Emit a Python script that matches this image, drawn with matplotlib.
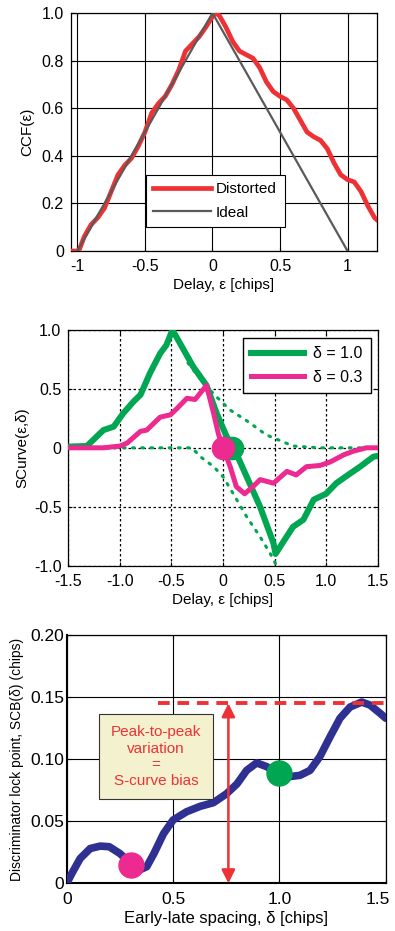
import matplotlib
matplotlib.use("Agg")
import matplotlib.pyplot as plt
import matplotlib.transforms as mtransforms
import numpy as np

plt.rcParams['font.family'] = ['Liberation Sans', 'DejaVu Sans']
plt.rcParams['font.size'] = 11

# --- Panel 1: cross-correlation function ---
ccf_delay = [-1.05, -0.99, -0.95, -0.9, -0.85, -0.8, -0.75, -0.7, -0.65, -0.6, -0.55,
             -0.5, -0.45, -0.4, -0.35, -0.3, -0.25, -0.2, -0.15, -0.1, -0.05, 0.0,
             0.02, 0.05, 0.1, 0.15, 0.2, 0.25, 0.3, 0.35, 0.4, 0.45, 0.5, 0.55, 0.6,
             0.65, 0.7, 0.75, 0.8, 0.85, 0.9, 0.95, 1.0, 1.05, 1.1, 1.15, 1.2, 1.22]
ccf_distorted = [0.0, 0.0, 0.06, 0.11, 0.14, 0.18, 0.25, 0.32, 0.36, 0.39, 0.44,
                 0.5, 0.58, 0.62, 0.65, 0.70, 0.76, 0.84, 0.87, 0.90, 0.94, 0.985,
                 1.0, 0.99, 0.94, 0.88, 0.84, 0.825, 0.81, 0.77, 0.71, 0.67, 0.65, 0.635, 0.60,
                 0.55, 0.50, 0.48, 0.465, 0.43, 0.37, 0.32, 0.30, 0.29, 0.25, 0.19, 0.14, 0.13]
ideal_delay = [-1.0, 0.0, 1.0]
ideal_ccf = [0.0, 1.0, 0.0]

# --- Panel 2: S-curves ---
s10_delay = [-1.5, -1.32, -1.16, -1.06, -0.97, -0.87, -0.8, -0.71, -0.61, -0.55, -0.49,
             -0.29, -0.16, -0.06, 0.036, 0.13, 0.23, 0.36, 0.49, 0.51, 0.62, 0.68,
             0.78, 0.88, 1.0, 1.1, 1.23, 1.33, 1.46, 1.5]
s10_val = [0.01, 0.015, 0.15, 0.18, 0.29, 0.39, 0.45, 0.63, 0.80, 0.87, 1.0,
           0.69, 0.53, 0.29, 0.095, -0.05, -0.245, -0.5, -0.81, -0.9, -0.75, -0.67,
           -0.61, -0.44, -0.39, -0.30, -0.22, -0.16, -0.075, -0.07]
s03_delay = [-1.5, -1.16, -1.0, -0.93, -0.8, -0.74, -0.61, -0.51, -0.45, -0.35, -0.27,
             -0.16, -0.09, -0.045, 0.0, 0.07, 0.13, 0.21, 0.29, 0.36, 0.49, 0.62,
             0.71, 0.81, 0.94, 1.04, 1.17, 1.26, 1.39, 1.5]
s03_val = [0.0, 0.0, 0.015, 0.04, 0.14, 0.15, 0.26, 0.28, 0.33, 0.42, 0.41,
           0.53, 0.29, 0.12, 0.0, -0.16, -0.33, -0.39, -0.33, -0.27, -0.30, -0.20,
           -0.23, -0.16, -0.15, -0.12, -0.06, -0.03, 0.0, 0.0]
env_up_delay = [-0.34, -0.19, -0.06, 0.07, 0.23, 0.42, 0.68, 0.94, 1.5]
env_up_val = [0.72, 0.55, 0.43, 0.32, 0.23, 0.11, 0.015, 0.0, 0.0]
env_lo_delay = [-1.5, -0.3, -0.22, -0.09, 0.0, 0.1, 0.23, 0.36, 0.46, 0.52]
env_lo_val = [0.0, 0.0, -0.075, -0.16, -0.245, -0.39, -0.585, -0.755, -0.9, -1.0]
lock10 = (0.09, 0.0)
lock03 = (0.0, 0.0)

# --- Panel 3: lock point vs spacing ---
spacing = [0.0, 0.024, 0.063, 0.11, 0.157, 0.2, 0.25, 0.30, 0.345, 0.376, 0.41, 0.455,
           0.50, 0.564, 0.627, 0.69, 0.75, 0.80, 0.846, 0.893, 0.94, 0.987, 1.05, 1.097,
           1.144, 1.19, 1.238, 1.285, 1.332, 1.387, 1.426, 1.473, 1.5]
scb = [0.0, 0.008, 0.02, 0.028, 0.030, 0.0295, 0.024, 0.016, 0.011, 0.0134, 0.024, 0.040,
       0.051, 0.0577, 0.062, 0.065, 0.072, 0.080, 0.091, 0.097, 0.094, 0.089, 0.086, 0.087,
       0.091, 0.102, 0.118, 0.133, 0.142, 0.146, 0.1436, 0.137, 0.133]
scb_peak = 0.145
peak_line_start = 0.43
arrow_x = 0.76
pt_03 = (0.3, 0.0145)
pt_10 = (1.0, 0.0886)

red = '#ee3134'
gray = '#5a5a5a'
green = '#00a651'
magenta = '#ec2a8f'
navy = '#2e3192'

fig = plt.figure(figsize=(3.95, 9.31), dpi=100)


def style_axes(ax, size=11.5):
    ax.tick_params(direction='in', top=True, right=True, length=3, width=0.8,
                   labelsize=size)
    ax.tick_params(axis='x', pad=6)
    ax.tick_params(axis='y', pad=5)
    for s in ax.spines.values():
        s.set_linewidth(0.9)


# Panel 1
ax1 = fig.add_axes([0.179, 0.7304, 0.776, 0.2556])
ax1.plot(ccf_delay, ccf_distorted, color=red, lw=3.4, label='Distorted', zorder=3)
ax1.plot(ideal_delay, ideal_ccf, color=gray, lw=1.6, label='Ideal', zorder=4)
ax1.set_xlim(-1.05, 1.22)
ax1.set_ylim(0, 1.0)
ax1.set_xticks([-1, -0.5, 0, 0.5, 1])
ax1.set_xticklabels(['-1', '-0.5', '0', '0.5', '1'])
ax1.set_yticks([0, 0.2, 0.4, 0.6, 0.8, 1.0])
ax1.set_yticklabels(['0', '0.2', '0.4', '0.6', '0.8', '1.0'])
ax1.grid(True, color='black', lw=0.8, ls='-')
ax1.set_axisbelow(True)
ax1.set_xlabel('Delay, ε [chips]', labelpad=3)
ax1.set_ylabel('CCF(ε)', labelpad=5)
style_axes(ax1)
leg1 = ax1.legend(loc='lower left', bbox_to_anchor=(0.245, 0.1), fancybox=False,
                  edgecolor='black', framealpha=1, handlelength=3.8, fontsize=11,
                  borderpad=0.5, labelspacing=0.6, handletextpad=0.3,
                  borderaxespad=0)
leg1.get_frame().set_linewidth(0.8)

# Panel 2
ax2 = fig.add_axes([0.173, 0.3924, 0.783, 0.2532])
ax2.plot(env_up_delay, env_up_val, color=green, lw=2.2, ls=(0, (0.6, 2.4)),
         dash_capstyle='round', zorder=3)
ax2.plot(env_lo_delay, env_lo_val, color=green, lw=2.2, ls=(0, (0.6, 2.4)),
         dash_capstyle='round', zorder=3)
ax2.plot(s10_delay, s10_val, color=green, lw=4.4, label='δ = 1.0', zorder=4)
ax2.plot(s03_delay, s03_val, color=magenta, lw=3.6, label='δ = 0.3', zorder=5)
ax2.plot(*lock10, 'o', color=green, ms=16, zorder=6)
ax2.plot(*lock03, 'o', color=magenta, ms=16, zorder=7)
ax2.set_xlim(-1.5, 1.5)
ax2.set_ylim(-1.0, 1.0)
ax2.set_xticks([-1.5, -1.0, -0.5, 0, 0.5, 1.0, 1.5])
ax2.set_xticklabels(['-1.5', '-1.0', '-0.5', '0', '0.5', '1.0', '1.5'])
ax2.set_yticks([-1.0, -0.5, 0, 0.5, 1.0])
ax2.set_yticklabels(['-1.0', '-0.5', '0', '0.5', '1.0'])
ax2.grid(True, color='black', lw=0.9, ls=(0, (2, 2)))
ax2.set_axisbelow(True)
ax2.set_xlabel('Delay, ε [chips]', labelpad=3)
ax2.set_ylabel('SCurve(ε,δ)', labelpad=3)
style_axes(ax2)
leg2 = ax2.legend(loc='upper right', bbox_to_anchor=(0.978, 0.965), fancybox=False,
                  edgecolor='black', framealpha=1, handlelength=3.3, fontsize=11.5,
                  borderpad=0.5, labelspacing=0.55, handletextpad=0.6,
                  borderaxespad=0)
leg2.get_frame().set_linewidth(1.0)

# Panel 3
ax3 = fig.add_axes([0.169, 0.0512, 0.8076, 0.2667])
ax3.plot(spacing, scb, color=navy, lw=5.5, solid_capstyle='round', zorder=3)
ax3.plot([peak_line_start, 1.5], [scb_peak, scb_peak], color=red, lw=2.8,
         ls=(0, (3, 2)), zorder=4)
ax3.annotate('', xy=(arrow_x, 0.0), xytext=(arrow_x, scb_peak),
             arrowprops=dict(arrowstyle='<|-|>', color=red, lw=1.8,
                             mutation_scale=20, shrinkA=0, shrinkB=0), zorder=4)
ax3.plot(*pt_03, 'o', color=magenta, ms=18, zorder=5)
ax3.plot(*pt_10, 'o', color=green, ms=18, zorder=5)
ax3.text(0.42, 0.102, 'Peak-to-peak\nvariation\n=\nS-curve bias', color=red,
         ha='center', va='center', fontsize=11, linespacing=1.2, zorder=6,
         bbox=dict(boxstyle='square,pad=0.75', fc='#f4f1cf', ec='#333333', lw=0.8))
ax3.set_xlim(0, 1.5)
ax3.set_ylim(0, 0.2)
ax3.set_xticks([0, 0.5, 1.0, 1.5])
ax3.set_xticklabels(['0', '0.5', '1.0', '1.5'])
ax3.set_yticks([0, 0.05, 0.10, 0.15, 0.20])
ax3.set_yticklabels(['0', '0.05', '0.10', '0.15', '0.20'])
ax3.grid(True, color='black', lw=0.8, ls='-')
ax3.set_axisbelow(True)
ax3.set_xlabel('Early-late spacing, δ [chips]', fontsize=12, labelpad=3)
ax3.set_ylabel('Discriminator lock point, SCB(δ) (chips)', fontsize=10, labelpad=4)
style_axes(ax3, size=12.5)
ax3.tick_params(axis='y', pad=2)
ax3.spines['left'].set_linewidth(1.5)
ax3.spines['bottom'].set_linewidth(1.5)
# keep the last x tick label inside the figure
last = ax3.get_xticklabels()[-1]
last.set_transform(last.get_transform() +
                   mtransforms.ScaledTranslation(-8 / 100, 0, fig.dpi_scale_trans))

fig.savefig('out.png', dpi=100)
